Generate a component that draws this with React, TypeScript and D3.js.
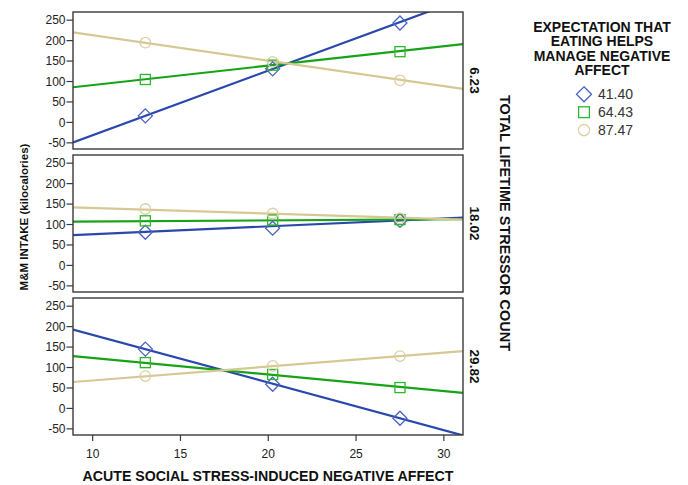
import React from "react";
import * as d3 from "d3";

// ---- data ----
const xTicks = [10, 15, 20, 25, 30];
const yTicks = [-50, 0, 50, 100, 150, 200, 250];
const panelLabels = ["6.23", "18.02", "29.82"];
const groupLabels = ["41.40", "64.43", "87.47"];
const pointX = [13, 20.25, 27.5];
const lineX = [8.88, 31.09];

// marker values [panel][group][point]
const markerValues = [
  [
    [16, 131, 243],
    [105, 140, 173],
    [195, 148, 103],
  ],
  [
    [81, 91, 110],
    [109, 111, 112],
    [138, 127, 115],
  ],
  [
    [145, 59, -24],
    [112, 83, 51],
    [79, 104, 128],
  ],
];

// fitted line values at lineX [panel][group]
const lineValues = [
  [
    [-49, 302],
    [86, 191.5],
    [220, 82],
  ],
  [
    [74, 117],
    [107, 113],
    [142, 112],
  ],
  [
    [193, -66],
    [128, 38],
    [64.6, 140],
  ],
];

const lineColors = ["#2a48ac", "#17a317", "#d6c894"];
const markerColors = ["#4a62c2", "#2db52d", "#dccfa2"];
const shapes = ["diamond", "square", "circle"];

const FONT = "'Liberation Sans', Arial, sans-serif";

const W = 688;
const H = 485;
const left = 73;
const right = 463;
const panelTops = [12, 155, 298];
const panelH = 137;

function Marker({ shape, cx, cy, color, size }: { shape: string; cx: number; cy: number; color: string; size: number }) {
  if (shape === "diamond") {
    const s = size;
    return (
      <path
        d={`M${cx},${cy - s} L${cx + s},${cy} L${cx},${cy + s} L${cx - s},${cy} Z`}
        fill="none"
        stroke={color}
        strokeWidth={1.3}
      />
    );
  }
  if (shape === "square") {
    const s = size * 0.72;
    return <rect x={cx - s} y={cy - s} width={2 * s} height={2 * s} fill="none" stroke={color} strokeWidth={1.3} />;
  }
  return <circle cx={cx} cy={cy} r={size * 0.75} fill="none" stroke={color} strokeWidth={1.3} />;
}

export default function App() {
  const x = d3.scaleLinear().domain(lineX).range([left, right]);

  return (
    <svg
      width={W}
      height={H}
      style={{ position: "absolute", left: 0, top: 0, background: "#fff" }}
      fontFamily={FONT}
    >
      <defs>
        {panelTops.map((t, i) => (
          <clipPath id={`clip${i}`} key={i}>
            <rect x={left} y={t} width={right - left} height={panelH} />
          </clipPath>
        ))}
      </defs>
      {panelTops.map((top, pi) => {
        const y = d3.scaleLinear().domain([-65, 270]).range([top + panelH, top]);
        const line = d3
          .line<number>()
          .x((_, i) => x(lineX[i]))
          .y((d) => y(d));
        return (
          <g key={pi}>
            <rect x={left} y={top} width={right - left} height={panelH} fill="#fff" />
            <g clipPath={`url(#clip${pi})`}>
              {lineValues[pi].map((vals, gi) => (
                <path key={gi} d={line(vals) || ""} fill="none" stroke={lineColors[gi]} strokeWidth={2.2} />
              ))}
              {markerValues[pi].map((vals, gi) =>
                vals.map((v, k) => (
                  <Marker key={`${gi}-${k}`} shape={shapes[gi]} cx={x(pointX[k])} cy={y(v)} color={markerColors[gi]} size={7} />
                ))
              )}
            </g>
            <rect x={left} y={top} width={right - left} height={panelH} fill="none" stroke="#3a3a3a" strokeWidth={1.4} />
            {yTicks.map((t) => (
              <g key={t}>
                <line x1={left - 6.5} x2={left} y1={y(t)} y2={y(t)} stroke="#3a3a3a" strokeWidth={1.2} />
                <text x={left - 7.5} y={y(t) + 4.2} textAnchor="end" fontSize={12} fill="#222">
                  {t}
                </text>
              </g>
            ))}
            <text
              transform={`translate(470,${top + panelH / 2}) rotate(90)`}
              textAnchor="middle"
              fontSize={13.5}
              fontWeight="bold"
              fill="#111"
            >
              {panelLabels[pi]}
            </text>
          </g>
        );
      })}
      {/* x axis */}
      {xTicks.map((t) => (
        <g key={t}>
          <line x1={x(t)} x2={x(t)} y1={435} y2={441} stroke="#3a3a3a" strokeWidth={1.2} />
          <text x={x(t)} y={458} textAnchor="middle" fontSize={12} fill="#222">
            {t}
          </text>
        </g>
      ))}
      <text x={(left + right) / 2 + 0} y={481} textAnchor="middle" fontSize={14.2} fontWeight="bold" fill="#111">
        ACUTE SOCIAL STRESS-INDUCED NEGATIVE AFFECT
      </text>
      <text
        transform={`translate(27.5,217) rotate(-90)`}
        textAnchor="middle"
        fontSize={11.5}
        fontWeight="bold"
        fill="#111"
      >
        M&amp;M INTAKE (kilocalories)
      </text>
      <text
        transform={`translate(499.5,223) rotate(90)`}
        textAnchor="middle"
        fontSize={14.5}
        fontWeight="bold"
        fill="#111"
      >
        TOTAL LIFETIME STRESSOR COUNT
      </text>
      {/* legend */}
      {["EXPECTATION THAT", "EATING HELPS", "MANAGE NEGATIVE", "AFFECT"].map((s, i) => (
        <text key={i} x={602} y={31.7 + i * 14.5} textAnchor="middle" fontSize={14} fontWeight="bold" fill="#111">
          {s}
        </text>
      ))}
      {groupLabels.map((g, i) => (
        <g key={g}>
          <Marker shape={shapes[i]} cx={584} cy={94.3 + i * 17.9} color={markerColors[i]} size={7.5} />
          <text x={598} y={94.3 + i * 17.9 + 5} fontSize={14} fill="#333">
            {g}
          </text>
        </g>
      ))}
    </svg>
  );
}
